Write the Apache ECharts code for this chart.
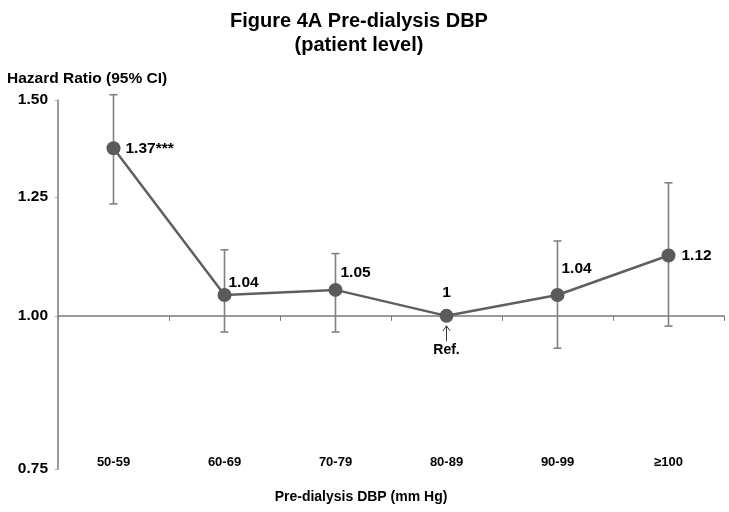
<!DOCTYPE html>
<html>
<head>
<meta charset="utf-8">
<script src="https://cdn.jsdelivr.net/npm/echarts@6/dist/echarts.min.js"></script>
<style>html,body{margin:0;padding:0;background:#fff}#c{width:729px;height:512px}</style>
</head>
<body>
<div id="c"></div>
<script>
// ---- data ----
const categories = ['50-59', '60-69', '70-79', '80-89', '90-99', '\u2265100'];
const hazardRatio = [1.37, 1.04, 1.05, 1, 1.04, 1.12];
const ciLower = [1.234, 0.97, 0.97, 1, 0.941, 0.981];
const ciUpper = [1.515, 1.132, 1.124, 1, 1.151, 1.284];
const significance = ['***', '', '', '', '', ''];
const yTicks = [0.75, 1.00, 1.25, 1.50];
const refIndex = 3;
const refText = 'Ref.';

// ---- style (label placement per point) ----
const labelStyle = [
  {position: 'right', offset: [-1, 0]},
  {position: 'right', offset: [-9, -12]},
  {position: 'right', offset: [-8, -17]},
  {position: 'top', offset: [0, -2]},
  {position: 'right', offset: [-9, -26]},
  {position: 'right', offset: [0, 0]}
];

const FONT = '"Liberation Sans", Arial, sans-serif';
const chart = echarts.init(document.getElementById('c'), null, {renderer: 'canvas'});

const lineData = hazardRatio.map((v, i) => ({
  value: v,
  label: Object.assign({show: true, formatter: () => String(v) + significance[i]}, labelStyle[i])
}));
const ciData = categories.map((c, i) => [i, ciLower[i], ciUpper[i]]);

const option = {
  animation: false,
  backgroundColor: '#fff',
  title: [
    {text: 'Figure 4A Pre-dialysis DBP\n(patient level)', left: 354, textAlign: 'center', top: 4,
     textStyle: {fontFamily: FONT, fontSize: 20, fontWeight: 'bold', color: '#000', lineHeight: 24}},
    {text: 'Hazard Ratio (95% CI)', left: 2, top: 66,
     textStyle: {fontFamily: FONT, fontSize: 15.5, fontWeight: 'bold', color: '#000'}}
  ],
  grid: {left: 58, right: 5, top: 100, bottom: 43, containLabel: false, outerBoundsMode: 'none'},
  xAxis: {
    type: 'category', data: categories, boundaryGap: true, position: 'bottom',
    axisLine: {onZero: false, lineStyle: {color: '#7a7a7a', width: 1.5}},
    axisTick: {show: true, inside: false, length: 5, lineStyle: {color: '#7a7a7a'}},
    axisLabel: {fontFamily: FONT, fontSize: 13, fontWeight: 'bold', color: '#000', margin: 138},
    name: 'Pre-dialysis DBP (mm Hg)', nameLocation: 'middle', nameGap: 179,
    nameTextStyle: {fontFamily: FONT, fontSize: 14, fontWeight: 'bold', color: '#000', padding: [0, 60, 0, 0]}
  },
  yAxis: {
    type: 'log', logBase: 10, min: 0.75, max: 1.5,
    axisLine: {show: true, lineStyle: {color: '#7a7a7a', width: 1.5}},
    axisTick: {show: true, length: 3, lineStyle: {color: '#aaa'}, customValues: yTicks},
    axisLabel: {fontFamily: FONT, fontSize: 15.5, fontWeight: 'bold', color: '#000', margin: 10,
      customValues: yTicks, formatter: v => Number(v).toFixed(2)},
    splitLine: {show: false}
  },
  series: [
    {
      type: 'custom', name: 'CI', data: ciData, encode: {x: 0, y: [1, 2]}, z: 2,
      renderItem: function (params, api) {
        if (api.value(1) === api.value(2)) return null;
        const lo = api.coord([api.value(0), api.value(1)]);
        const hi = api.coord([api.value(0), api.value(2)]);
        const w = 4;
        const st = {stroke: '#808080', lineWidth: 1.6};
        return {type: 'group', children: [
          {type: 'line', shape: {x1: lo[0], y1: lo[1], x2: hi[0], y2: hi[1]}, style: st},
          {type: 'line', shape: {x1: lo[0] - w, y1: lo[1], x2: lo[0] + w, y2: lo[1]}, style: st},
          {type: 'line', shape: {x1: hi[0] - w, y1: hi[1], x2: hi[0] + w, y2: hi[1]}, style: st}
        ]};
      }
    },
    {
      type: 'line', name: 'HR', data: lineData, z: 3,
      symbol: 'circle', symbolSize: 14,
      itemStyle: {color: '#5a5a5a'},
      lineStyle: {color: '#5f5f5f', width: 2.5},
      label: {fontFamily: FONT, fontSize: 15.5, fontWeight: 'bold', color: '#000', distance: 6}
    },
    {
      type: 'custom', name: 'Ref', data: [[refIndex, hazardRatio[refIndex]]], encode: {x: 0, y: 1}, z: 4, silent: true,
      renderItem: function (params, api) {
        const p = api.coord([api.value(0), api.value(1)]);
        const st = {stroke: '#333', lineWidth: 1, fill: null};
        return {type: 'group', children: [
          {type: 'line', shape: {x1: p[0], y1: p[1] + 10, x2: p[0], y2: p[1] + 25}, style: st},
          {type: 'polyline', shape: {points: [[p[0] - 3.5, p[1] + 15], [p[0], p[1] + 10], [p[0] + 3.5, p[1] + 15]]}, style: st},
          {type: 'text', x: p[0], y: p[1] + 34, style: {text: refText, fontFamily: FONT, fontSize: 14,
            fontWeight: 'bold', fill: '#000', align: 'center', verticalAlign: 'middle'}}
        ]};
      }
    }
  ]
};
chart.setOption(option);

// place the category axis line on HR = 1.00 using the chart's own scale
const pBottom = chart.convertToPixel({yAxisIndex: 0}, yTicks[0]);
const pOne = chart.convertToPixel({yAxisIndex: 0}, 1);
const d = pBottom - pOne;
if (isFinite(d)) {
  chart.setOption({xAxis: {offset: -d, axisLabel: {margin: d - 13}, nameGap: d + 21}});
}
</script>
</body>
</html>
